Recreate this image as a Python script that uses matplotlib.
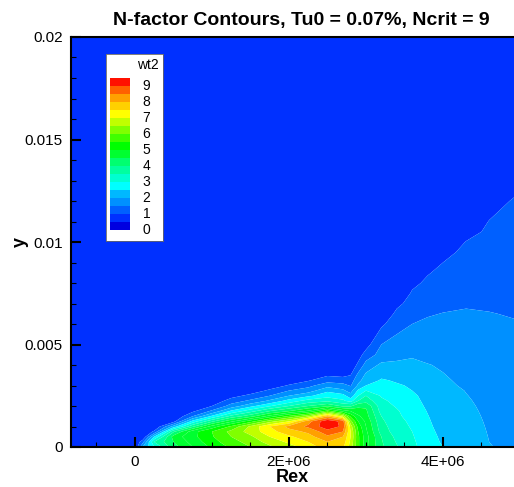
import matplotlib
matplotlib.use('Agg')
import matplotlib.pyplot as plt
import numpy as np

plt.rcParams['font.family'] = ['Liberation Sans', 'DejaVu Sans']

title = 'N-factor Contours, Tu0 = 0.07%, Ncrit = 9'
legend_title = 'wt2'

# stations along the plate (Rex in millions) and wall distance (y in thousandths)
rex_m = [-0.83, 0, 0.1, 0.25, 0.5, 0.75, 1, 1.25, 1.5, 1.75, 2, 2.25, 2.5, 2.7, 2.8, 2.9,
         3, 3.2, 3.4, 3.6, 3.8, 4, 4.3, 4.6, 4.93]
y_k = [0, .25, .5, .75, 1, 1.25, 1.5, 1.75, 2, 2.25, 2.5, 2.75, 3, 3.25, 3.5, 4, 4.5, 5,
       5.5, 6, 6.5, 7, 7.5, 8, 8.5, 9, 9.5, 10, 10.5, 11, 11.5, 12, 13, 20]

# N-factor, one list per station, from the wall upward.
# anything not listed is below the first contour
nfactor = [
    [],
    [],
    [1.5, .8],
    [2.5, 3, 2, .6],
    [3.8, 4, 4.2, 3.4, 1.7, .3],
    [4.5, 4.7, 4.85, 4.8, 3.4, 2.2, 1, .4],
    [5.1, 5.3, 5.45, 5.5, 4.7, 3.4, 2.1, 1.1, .5, .1],
    [5.6, 5.8, 6, 6.15, 5.6, 4.4, 3.15, 2.1, 1.2, .75, .3],
    [6, 6.2, 6.4, 6.7, 6.6, 5.3, 3.8, 2.8, 1.85, 1.1, .65, .2],
    [6.4, 6.7, 7, 7.3, 7.5, 6.3, 4.7, 3.5, 2.45, 1.6, 1, .6, .2],
    [6.8, 7.1, 7.4, 7.8, 8.15, 7, 5.6, 4, 3, 2.2, 1.5, 1, .55, .2],
    [7.2, 7.5, 7.8, 8.1, 8.6, 8.3, 6.4, 4.6, 3.5, 2.7, 1.9, 1.25, .85, .45, .1],
    [7.8, 8, 8.4, 8.8, 9.3, 9.4, 8, 5.7, 3.9, 2.9, 2.3, 1.9, 1.3, .8, .45],
    [7.6, 7.8, 8, 8.5, 8.9, 8.8, 6.8, 4.8, 3.4, 2.6, 2.2, 1.6, 1.2, .7, .4],
    [6.8, 6.9, 7, 7, 6.8, 6.2, 5.4, 4.5, 3.4, 2.3, 1.7, 1.3, .95, .75, .5, .2],
    [5.6, 5.6, 5.6, 5.5, 5.3, 5, 4.6, 4.2, 3.9, 3, 2.5, 2.1, 1.6, 1.35, 1.15, .6, .3],
    [4.7, 4.7, 4.7, 4.6, 4.5, 4.4, 4.2, 4.1, 3.9, 3.3, 3, 2.5, 2, 1.75, 1.6, 1.2, .7, .3],
    [3.6, 3.55, 3.5, 3.3, 3.2, 3.1, 3, 2.8, 2.7, 2.6, 2.45, 2.3, 2.15, 2.05, 1.9, 1.6, 1.2,
     1, .7, .4, .15],
    [3.05, 2.95, 2.85, 2.75, 2.7, 2.65, 2.6, 2.55, 2.45, 2.35, 2.25, 2.15, 2.05, 1.95, 1.85,
     1.6, 1.35, 1.2, 1, .8, .6, .4, .15],
    [2.65, 2.6, 2.55, 2.5, 2.45, 2.4, 2.3, 2.25, 2.2, 2.15, 2.1, 2, 1.95, 1.85, 1.8, 1.6,
     1.45, 1.3, 1.15, 1, .8, .65, .55, .4, .2],
    [2.2, 2.18, 2.15, 2.12, 2.08, 2.05, 2.02, 1.98, 1.93, 1.88, 1.83, 1.78, 1.72, 1.68, 1.6,
     1.52, 1.38, 1.25, 1.15, 1.06, .97, .85, .7, .58, .47, .35, .2],
    [2, 1.95, 1.92, 1.88, 1.85, 1.82, 1.78, 1.75, 1.72, 1.68, 1.65, 1.62, 1.58, 1.55, 1.52,
     1.45, 1.32, 1.22, 1.13, 1.06, 1.01, .92, .8, .7, .6, .5, .4, .3, .2, .1],
    [1.72, 1.7, 1.67, 1.65, 1.63, 1.61, 1.59, 1.57, 1.55, 1.53, 1.51, 1.49, 1.45, 1.42, 1.38,
     1.3, 1.22, 1.16, 1.1, 1.06, 1.02, .98, .88, .8, .72, .65, .58, .51, .4, .3, .2, .1],
    [1.52, 1.5, 1.49, 1.48, 1.47, 1.46, 1.45, 1.44, 1.43, 1.42, 1.41, 1.4, 1.38, 1.36, 1.33,
     1.27, 1.21, 1.15, 1.1, 1.05, 1.01, .96, .9, .84, .78, .72, .66, .6, .55, .51, .44, .38, .2],
    [1.4, 1.39, 1.38, 1.37, 1.36, 1.35, 1.34, 1.33, 1.32, 1.31, 1.3, 1.29, 1.28, 1.27, 1.26,
     1.22, 1.17, 1.12, 1.07, 1.02, .98, .93, .89, .85, .82, .79, .76, .73, .7, .66, .6, .53, .38],
]

levels = [0, .5, 1, 1.5, 2, 2.5, 3, 3.5, 4, 4.5, 5, 5.5, 6, 6.5, 7, 7.5, 8, 8.5, 9, 10]
band_colors = ['#0000e0', '#0030ff', '#0060ff', '#0090ff', '#00b8ff', '#00ffff', '#00ffd0',
               '#00ffa0', '#00ff70', '#00ff30', '#00ff00', '#40ff00', '#80ff00', '#c0ff00',
               '#ffff00', '#ffd000', '#ffa000', '#ff6000', '#ff1000']
field_colors = band_colors[1:10] + band_colors[9:19]

x_major = [0, 2e6, 4e6]
x_labels = ['0', '2E+06', '4E+06']
y_major = [0, 0.005, 0.01, 0.015, 0.02]
y_labels = ['0', '0.005', '0.01', '0.015', '0.02']
legend_ticks = [0, 1, 2, 3, 4, 5, 6, 7, 8, 9]

x = np.array(rex_m) * 1e6
y = np.array(y_k) * 1e-3
Z = np.zeros((len(y), len(x)))
for i, col in enumerate(nfactor):
    Z[:len(col), i] = col

W, H = 514, 487
fig = plt.figure(figsize=(W / 100, H / 100), dpi=100)

def px_axes(x0, y0, x1, y1):
    return fig.add_axes([x0 / W, 1 - y1 / H, (x1 - x0) / W, (y1 - y0) / H])

ax = px_axes(71, 37, 514, 447)
ax.contourf(x, y, Z, levels=levels, colors=field_colors, antialiased=True)
ax.set_xlim(-0.83e6, 4.922e6)
ax.set_ylim(0, 0.02)
ax.set_xticks(x_major)
ax.set_xticklabels(x_labels)
ax.set_yticks(y_major)
ax.set_yticklabels(y_labels)
ax.set_xticks(np.arange(-0.5e6, 4.9e6, 0.5e6), minor=True)
ax.set_yticks(np.arange(0.001, 0.02, 0.001), minor=True)
ax.tick_params(which='major', direction='in', length=7, width=1.5, labelsize=11, pad=6)
ax.tick_params(which='minor', direction='in', length=3.5, width=0.8)
for s in ax.spines.values():
    s.set_linewidth(1.5)
ax.spines['right'].set_visible(False)
ax.set_xlabel('Rex', fontsize=13, fontweight='bold', labelpad=0)
ax.set_ylabel('y', fontsize=13, fontweight='bold', labelpad=-3)
fig.text(301 / W, 1 - 20 / H, title, fontsize=14, fontweight='bold', ha='center', va='center')

# legend box
box = px_axes(106, 54, 163, 241)
box.set_xticks([])
box.set_yticks([])
box.patch.set_facecolor('white')
for s in box.spines.values():
    s.set_linewidth(0.6)
    s.set_color('#666666')
box.text(0.55, 0.94, legend_title, fontsize=10, ha='left', va='center', transform=box.transAxes)

bar = px_axes(110, 78, 130, 230)
edges = np.linspace(-0.125, 9.375, len(band_colors) + 1)
bar.pcolormesh([0, 1], edges, np.arange(len(band_colors)).reshape(-1, 1),
               cmap=matplotlib.colors.ListedColormap(band_colors))
bar.set_xticks([])
bar.yaxis.tick_right()
bar.set_yticks(legend_ticks)
bar.tick_params(axis='y', length=0, labelsize=10, pad=9)
for s in bar.spines.values():
    s.set_visible(False)

fig.savefig('out.png', dpi=100)
